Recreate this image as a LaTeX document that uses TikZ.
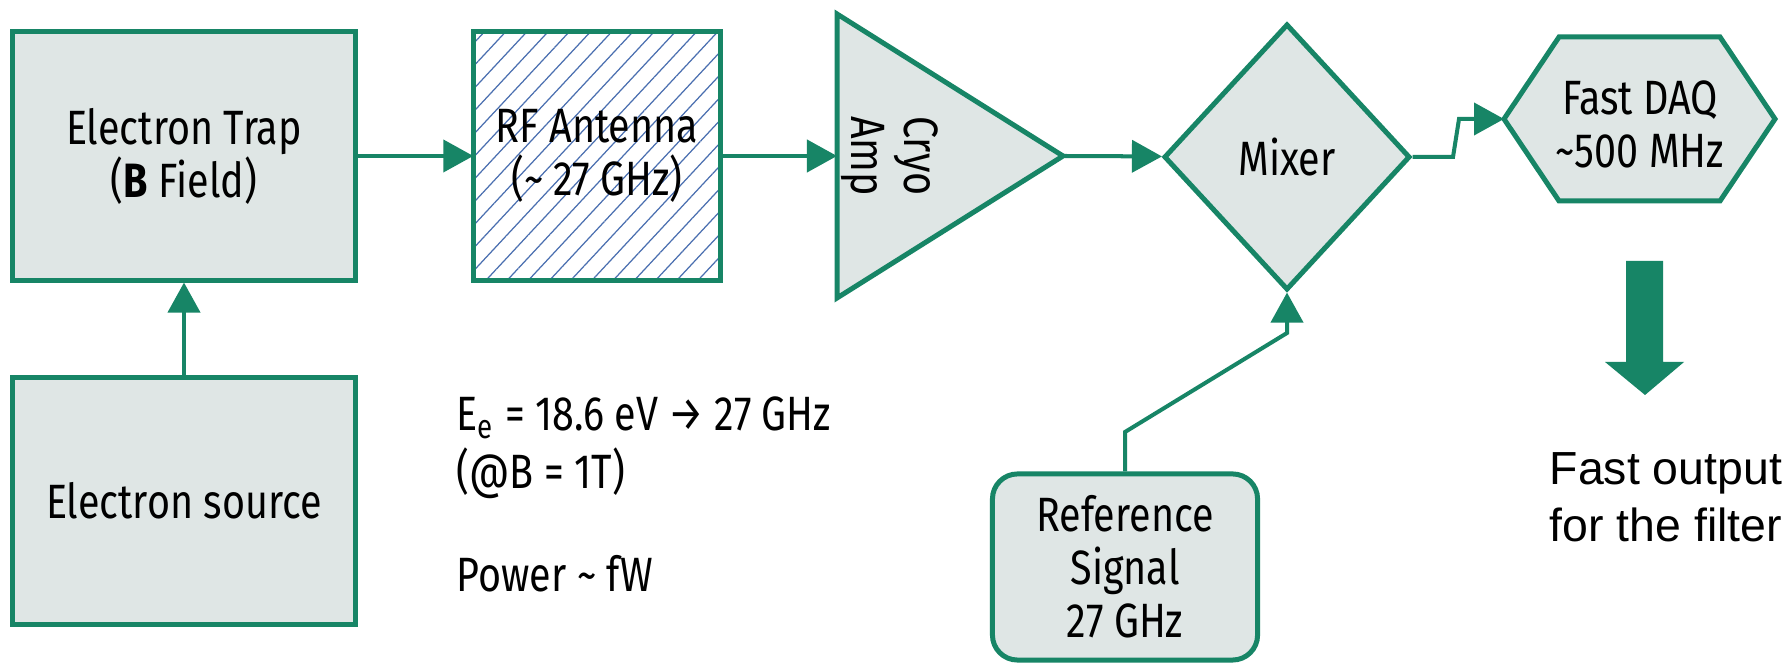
\documentclass[tikz,border=0pt]{standalone}
\usepackage{fontspec}
\setmainfont[FakeStretch=0.82]{Fira Sans}
\newfontfamily\arialfont{Liberation Sans}
\usetikzlibrary{arrows.meta,shapes.geometric,patterns.meta}
\definecolor{tealg}{HTML}{178566}
\definecolor{boxgrey}{HTML}{DFE6E5}
\definecolor{hatchblue}{HTML}{4A6FB0}
\begin{document}
\begin{tikzpicture}[x=0.01cm, y=-0.01cm,
        blk/.style={draw=tealg, line width=1.42pt, fill=boxgrey, inner sep=0pt},
        txt/.style={font=\fontsize{13.7pt}{15.1pt}\selectfont, align=center},
        conn/.style={draw=tealg, line width=1.14pt, -{Triangle[length=0.3cm,width=0.32cm]}}]
            \useasboundingbox (0,0) rectangle (1792,665);
            \fill[white] (0,0) rectangle (1792,665);
            \node[blk, txt, minimum width=3.42cm, minimum height=2.48cm] (trap) at (184,156) {Electron Trap\\(\textbf{B} Field)};
            \node[blk, txt, minimum width=3.42cm, minimum height=2.47cm] (src) at (184,501) {Electron source};
            \node[draw=tealg, line width=1.42pt, inner sep=0pt, txt, pattern={Lines[angle=47,distance=0.155cm,line width=0.35pt]}, pattern color=hatchblue,
                minimum width=2.46cm, minimum height=2.48cm] (ant) at (597,156) {RF Antenna\\(\textasciitilde{} 27 GHz)};
            \draw[blk] (837,14) -- (1063,156) -- (837,298) -- cycle;
            \coordinate (ampin) at (837,156);
            \coordinate (ampout) at (1063,156);
            \node[txt, rotate=-90] (amp) at (890,156) {Cryo\\Amp};
            \node[blk, txt, diamond, minimum width=2.46cm, minimum height=2.66cm] (mix) at (1287,157) {Mixer};
            \draw[blk] (1504,119) -- (1559,37) -- (1720,37) -- (1775,119) -- (1720,201) -- (1559,201) -- cycle;
            \coordinate (daqin) at (1504,119);
            \node[txt] (daq) at (1640,124) {Fast DAQ\\\textasciitilde500 MHz};
            \node[blk, txt, rounded corners=0.25cm, minimum width=2.65cm, minimum height=1.86cm] (ref) at (1125,567) {Reference\\Signal\\27 GHz};
            \node[txt, align=left, anchor=north west, inner sep=0pt, font=\fontsize{13.7pt}{16.5pt}\selectfont] (info) at (456,396)
                {E\textsubscript{e} = 18.6 eV → 27 GHz\\(@B = 1T)\\[12.8pt]Power \textasciitilde{} fW};
            \fill[tealg] (1626,261) -- (1663,261) -- (1663,362) -- (1684,362) -- (1645,395) -- (1605,362) -- (1626,362) -- cycle;
            \node[font=\arialfont\fontsize{13.2pt}{16.2pt}\selectfont, align=left, anchor=west, inner sep=0pt] (out) at (1549,497) {Fast output\\for the filter};
            \draw[conn] (src) -- (trap);
            \draw[conn] (trap) -- (ant);
            \draw[conn] (ant) -- (ampin);
            \draw[conn] (ampout) -- (mix);
            \draw[conn] (ref) -- (1125,432) -- (1287,333) -- (mix);
            \draw[conn] (mix.east) -- (1453,157) -- (1459,119) -- (daqin);
        \end{tikzpicture}
\end{document}
